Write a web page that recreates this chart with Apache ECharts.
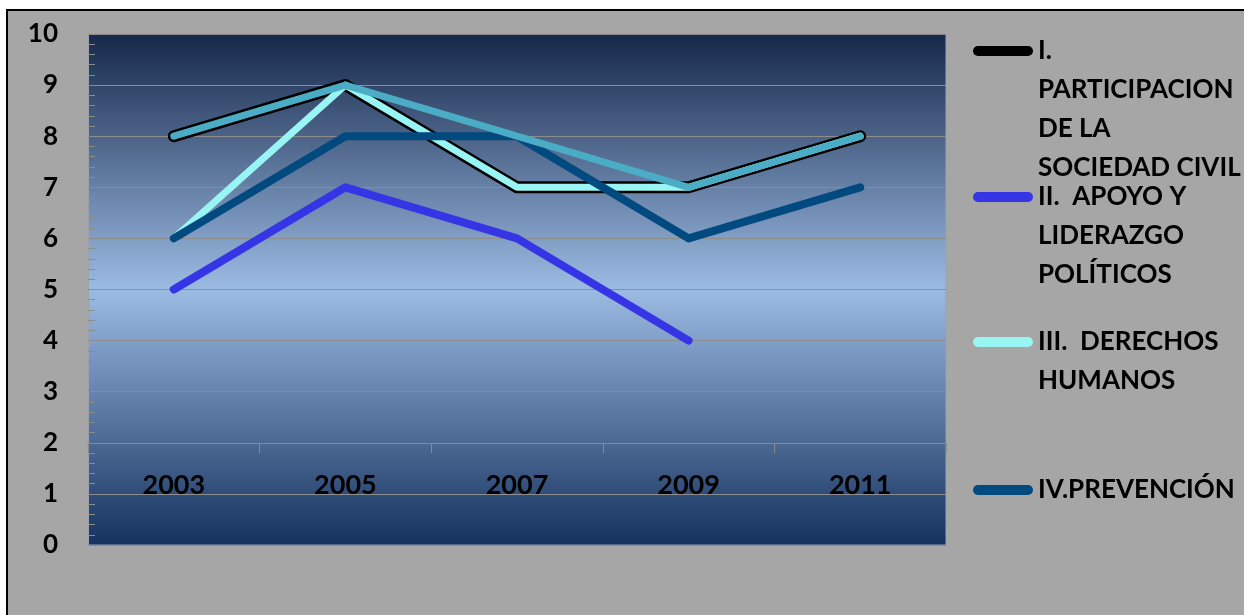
<!DOCTYPE html>
<html>
<head>
<meta charset="utf-8">
<script src="https://cdn.jsdelivr.net/npm/echarts@6/dist/echarts.min.js"></script>
<style>
  html, body { margin: 0; padding: 0; background: #fff; }
  .frame {
    position: absolute;
    left: 6px;
    top: 9px;
    width: 1250px;
    height: 620px;
    background: #a6a6a6;
    border-left: 2px solid #000;
    border-top: 2px solid #000;
  }
  #chart {
    position: absolute;
    left: 0;
    top: 0;
    width: 1244px;
    height: 615px;
  }
</style>
</head>
<body>
<div class="frame"></div>
<div id="chart"></div>
<script>
const years = ['2003', '2005', '2007', '2009', '2011']

const participacion = [8, 9, 7, 7, 8]
const apoyo = [5, 7, 6, 4, null]
const derechos = [6, 9, 7, 7, 8]
const prevencion = [6, 8, 8, 6, 7]
const quinta = [8, 9, 8, 7, 8]

const seriesNames = [
  'I.\nPARTICIPACION\nDE LA\nSOCIEDAD CIVIL',
  'II.  APOYO Y\nLIDERAZGO\nPOLÍTICOS',
  'III.  DERECHOS\nHUMANOS',
  'IV.PREVENCIÓN'
]

const FONT = 'Lato'
const LEGEND_LINE = 39
const legendCenters = [51, 197, 342, 490]

const chart = echarts.init(document.getElementById('chart'))

const pill = 'path://M5,0H55A5,5,0,0,1,55,10H5A5,5,0,0,1,5,0Z'

// icon lines up with the first text line: pad the label with empty lines above
const buildLegend = (name, i) => {
  const n = name.split('\n').length
  const h = (2 * n - 1) * LEGEND_LINE
  return {
    data: [name],
    orient: 'vertical',
    left: 973,
    top: legendCenters[i] - h / 2,
    padding: 0,
    icon: pill,
    itemWidth: 60,
    itemHeight: 10,
    selectedMode: false,
    formatter: (nm) => '\n'.repeat(n - 1) + nm,
    textStyle: {
      color: '#000',
      fontFamily: FONT,
      fontWeight: 'bold',
      fontSize: 26,
      lineHeight: LEGEND_LINE
    }
  }
}

const lineSeries = (name, data, color, width) => ({
  name: name,
  type: 'line',
  data: data,
  symbol: 'none',
  connectNulls: false,
  itemStyle: { color: color },
  lineStyle: { color: color, width: width, cap: 'round', join: 'round' }
})

chart.setOption({
  backgroundColor: 'transparent',
  animation: false,
  legend: seriesNames.map(buildLegend),
  grid: {
    left: 88,
    right: 298,
    top: 34,
    bottom: 70,
    show: true,
    borderColor: '#9aa3ae',
    borderWidth: 1,
    backgroundColor: {
      type: 'linear',
      x: 0, y: 0, x2: 0, y2: 1,
      colorStops: [
        { offset: 0, color: '#16284a' },
        { offset: 0.5, color: '#9cbbe3' },
        { offset: 1, color: '#15315e' }
      ]
    }
  },
  xAxis: {
    type: 'category',
    data: years,
    boundaryGap: true,
    offset: -102,
    axisLine: { lineStyle: { color: '#8c8c8c', width: 1 } },
    axisTick: { show: true, length: 10, lineStyle: { color: '#8c8c8c' } },
    axisLabel: {
      color: '#000',
      fontFamily: FONT,
      fontWeight: 'bold',
      fontSize: 27,
      margin: 29
    }
  },
  yAxis: {
    type: 'value',
    min: 0,
    max: 10,
    interval: 1,
    axisLine: { show: true, lineStyle: { color: '#9aa3ae' } },
    axisTick: { show: true, inside: true, length: 7, lineStyle: { color: '#8c8c8c' } },
    minorTick: { show: true, splitNumber: 5, length: 7, lineStyle: { color: '#8c8c8c' } },
    splitLine: { show: true, lineStyle: { color: '#8c8c8c', width: 1 } },
    axisLabel: {
      color: '#000',
      fontFamily: FONT,
      fontWeight: 'bold',
      fontSize: 26,
      margin: 30
    }
  },
  series: [
    lineSeries(seriesNames[0], participacion, '#000000', 12),
    lineSeries(seriesNames[1], apoyo, '#3535e6', 8),
    lineSeries(seriesNames[2], derechos, '#99f4f4', 7),
    lineSeries(seriesNames[3], prevencion, '#004a80', 8),
    lineSeries('V', quinta, '#4bacc6', 7)
  ]
})

window.addEventListener('resize', () => chart.resize())
</script>
</body>
</html>
